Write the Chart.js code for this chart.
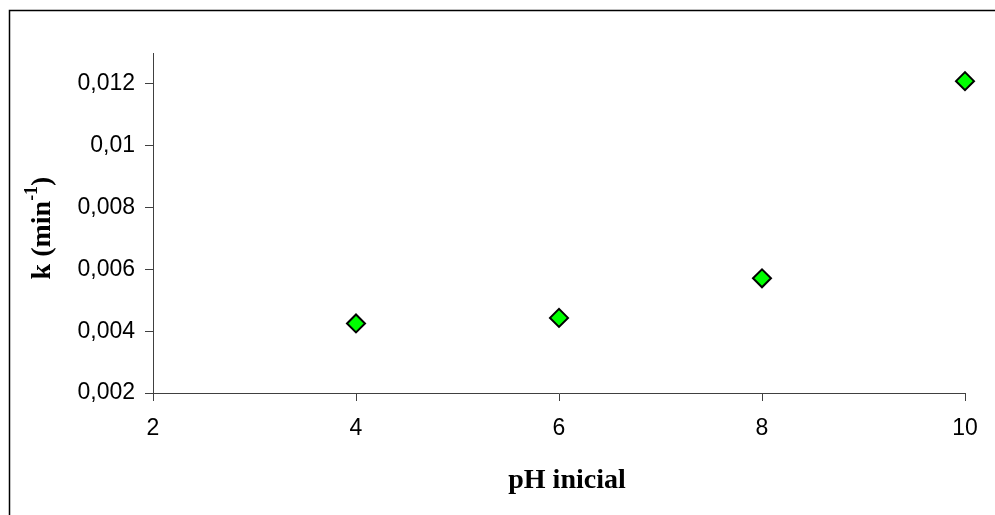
<!DOCTYPE html>
<html>
<head>
<meta charset="utf-8">
<script src="https://cdn.jsdelivr.net/npm/chart.js@4/dist/chart.umd.min.js"></script>
<style>
  html, body { margin: 0; padding: 0; background: #fff; }
  #wrap { width: 995px; height: 515px; position: relative; }
</style>
</head>
<body>
<div id="wrap"><canvas id="c" width="995" height="515"></canvas></div>
<script>
// Initial pH of the solution and the fitted rate constant k (min^-1)
const phInicial = [4, 6, 8, 10];
const kValues = [0.00425, 0.00443, 0.00571, 0.01209];

// Axis ranges and tick spacing
const xRange = { min: 2, max: 10, step: 2 };
const yRange = { min: 0.002, max: 0.013, step: 0.002 };

const AXIS_COLOR = '#404040';
const SANS = '"Liberation Sans", Arial, sans-serif';
const SERIF = '"Liberation Serif", "Times New Roman", serif';

const points = phInicial.map((x, i) => ({ x: x, y: kValues[i] }));

// Page frame and the two bold serif axis titles (the y one carries a superscript)
const decorations = {
  id: 'decorations',
  beforeDraw(chart) {
    const ctx = chart.ctx;
    ctx.save();
    ctx.strokeStyle = '#000';
    ctx.lineWidth = 1.5;
    ctx.beginPath();
    ctx.moveTo(9.5, 520);
    ctx.lineTo(9.5, 10.5);
    ctx.lineTo(1000, 10.5);
    ctx.stroke();
    ctx.restore();
  },
  afterDraw(chart) {
    const ctx = chart.ctx;
    const a = chart.chartArea;
    ctx.save();
    ctx.fillStyle = '#000';

    // x title
    ctx.font = 'bold 28px ' + SERIF;
    ctx.textAlign = 'center';
    ctx.textBaseline = 'alphabetic';
    ctx.fillText('pH inicial', (a.left + a.right) / 2 + 8, 488);

    // y title, rotated, with superscript -1
    const main = 'k (min';
    const sup = '-1';
    const close = ')';
    ctx.font = 'bold 28px ' + SERIF;
    const wMain = ctx.measureText(main).width;
    const wClose = ctx.measureText(close).width;
    ctx.font = 'bold 18px ' + SERIF;
    const wSup = ctx.measureText(sup).width;
    const total = wMain + wSup + wClose;
    const cy = 228;
    ctx.translate(50, cy);
    ctx.rotate(-Math.PI / 2);
    ctx.textAlign = 'left';
    let x0 = -total / 2;
    ctx.font = 'bold 28px ' + SERIF;
    ctx.fillText(main, x0, 0);
    ctx.font = 'bold 18px ' + SERIF;
    ctx.fillText(sup, x0 + wMain, -13);
    ctx.font = 'bold 28px ' + SERIF;
    ctx.fillText(close, x0 + wMain + wSup, 0);
    ctx.restore();
  }
};

new Chart(document.getElementById('c'), {
  type: 'scatter',
  data: {
    datasets: [{
      data: points,
      pointStyle: 'rectRot',
      pointRadius: 9,
      pointHoverRadius: 9,
      backgroundColor: '#00ff00',
      borderColor: '#000000',
      borderWidth: 2,
      showLine: false,
      clip: false
    }]
  },
  options: {
    responsive: false,
    animation: false,
    events: [],
    layout: { padding: { left: 0, right: 30, top: 53, bottom: 0 } },
    plugins: {
      legend: { display: false },
      tooltip: { enabled: false },
      title: { display: false }
    },
    scales: {
      x: {
        type: 'linear',
        min: xRange.min,
        max: xRange.max,
        afterFit(scale) { scale.height = 122; },
        border: { display: true, color: AXIS_COLOR, width: 1 },
        grid: { drawOnChartArea: false, drawTicks: true, tickLength: 8, color: AXIS_COLOR },
        ticks: {
          stepSize: xRange.step,
          color: '#000',
          padding: 14,
          maxRotation: 0,
          font: { family: SANS, size: 23 }
        }
      },
      y: {
        type: 'linear',
        min: yRange.min,
        max: yRange.max,
        afterFit(scale) { scale.width = 153; },
        border: { display: true, color: AXIS_COLOR, width: 1 },
        grid: { drawOnChartArea: false, drawTicks: true, tickLength: 8, color: AXIS_COLOR },
        ticks: {
          stepSize: yRange.step,
          includeBounds: false,
          color: '#000',
          padding: 10,
          font: { family: SANS, size: 23 },
          callback: (v) => String(Number(v.toFixed(4))).replace('.', ',')
        }
      }
    }
  },
  plugins: [decorations]
});
</script>
</body>
</html>
